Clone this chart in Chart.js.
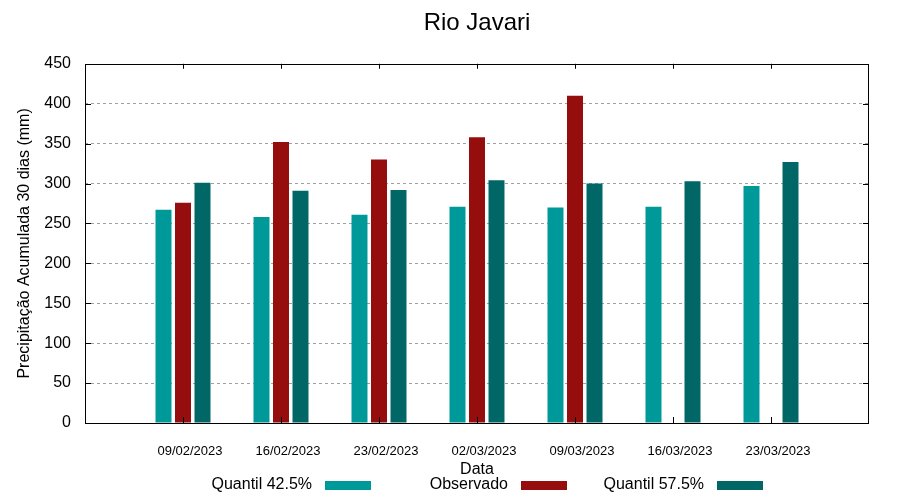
<!DOCTYPE html>
<html>
<head>
<meta charset="utf-8">
<script src="https://cdn.jsdelivr.net/npm/chart.js@4"></script>
<style>
  html, body { margin: 0; padding: 0; background: #fff; }
  #wrap { width: 900px; height: 500px; }
</style>
</head>
<body>
<div id="wrap"><canvas id="rioChart" width="900" height="500"></canvas></div>
<script>
const dates = ["09/02/2023", "16/02/2023", "23/02/2023", "02/03/2023", "09/03/2023", "16/03/2023", "23/03/2023"];
const q425 = [267, 258, 261, 271, 270, 271, 297];
const observado = [276, 352, 330, 358, 410, null, null];
const q575 = [301, 291, 292, 304, 300, 303, 327];
const yTicks = [0, 50, 100, 150, 200, 250, 300, 350, 400, 450];

const FONT = "'Liberation Sans', Arial, sans-serif";
Chart.defaults.font.family = FONT;
Chart.defaults.color = "#000";

// pad an empty slot on each side so the groups sit at 1..7 of a 0..8 axis
const labels = ["", ...dates, ""];
const pad = arr => [null, ...arr, null];

// gnuplot-like frame, inward ticks and legend (text left of the sample)
const gnuplotFrame = {
    id: "gnuplotFrame",
    afterDraw(chart) {
        const ctx = chart.ctx;
        const a = chart.chartArea;
        const x = chart.scales.x, y = chart.scales.y;
        ctx.save();
        ctx.strokeStyle = "#000";
        ctx.lineWidth = 1;
        ctx.strokeRect(Math.round(a.left) + 0.5, Math.round(a.top) + 0.5,
            Math.round(a.right - a.left) - 1, Math.round(a.bottom - a.top));
        ctx.beginPath();
        yTicks.forEach(v => {
            const py = Math.round(y.getPixelForValue(v)) + 0.5;
            ctx.moveTo(a.left, py); ctx.lineTo(a.left + 6, py);
            ctx.moveTo(a.right, py); ctx.lineTo(a.right - 6, py);
        });
        dates.forEach((d, i) => {
            const px = Math.round(x.getPixelForValue(i + 1)) + 0.5;
            ctx.moveTo(px, a.bottom); ctx.lineTo(px, a.bottom - 6);
            ctx.moveTo(px, a.top); ctx.lineTo(px, a.top + 5);
        });
        ctx.stroke();

        // legend row
        ctx.font = "16px " + FONT;
        ctx.textAlign = "right";
        ctx.textBaseline = "alphabetic";
        chart.data.datasets.forEach((ds, i) => {
            const boxRight = 371 + 196 * i;
            const boxLeft = boxRight - 46;
            ctx.fillStyle = ds.backgroundColor;
            ctx.fillRect(boxLeft, 481, 46, 9);
            ctx.fillStyle = "#000";
            ctx.fillText(ds.label, boxLeft - 13, 489);
        });
        ctx.restore();
    }
};

new Chart(document.getElementById("rioChart"), {
    type: "bar",
    data: {
        labels: labels,
        datasets: [
            { label: "Quantil 42.5%", data: pad(q425), backgroundColor: "#009999" },
            { label: "Observado", data: pad(observado), backgroundColor: "#960d0d" },
            { label: "Quantil 57.5%", data: pad(q575), backgroundColor: "#006666" },
        ],
    },
    options: {
        responsive: false,
        animation: false,
        layout: { padding: { left: 0, right: 31, top: 0, bottom: 22 } },
        datasets: { bar: { categoryPercentage: 0.597, barPercentage: 0.82, borderWidth: 0 } },
        plugins: {
            legend: { display: false },
            tooltip: { enabled: false },
            title: {
                display: true,
                text: "Rio Javari",
                fullSize: false,
                color: "#000",
                font: { size: 24, weight: "normal", lineHeight: 1.2 },
                padding: { top: 9, bottom: 26 },
            },
        },
        scales: {
            x: {
                offset: false,
                grid: { display: false, drawTicks: false },
                border: { display: false },
                ticks: { font: { size: 13 }, padding: 21, labelOffset: 7, maxRotation: 0, autoSkip: false },
                title: { display: true, text: "Data", font: { size: 16, lineHeight: 1 }, padding: { top: 0, bottom: 0 } },
                afterFit: s => { s.height = 55; },
            },
            y: {
                min: 0,
                max: 450,
                ticks: { stepSize: 50, font: { size: 16 }, padding: 14 },
                grid: {
                    drawTicks: false,
                    color: c => (c.tick.value === 0 || c.tick.value === 450) ? "rgba(0,0,0,0)" : "#a0a0a0",
                },
                border: { display: false, dash: [3, 3] },
                title: {
                    display: true,
                    text: "Precipitação Acumulada 30 dias (mm)",
                    font: { size: 16, lineHeight: 1 },
                    padding: { top: 17, bottom: 0 },
                },
                afterFit: s => { s.width = 85; },
            },
        },
    },
    plugins: [gnuplotFrame],
});
</script>
</body>
</html>
